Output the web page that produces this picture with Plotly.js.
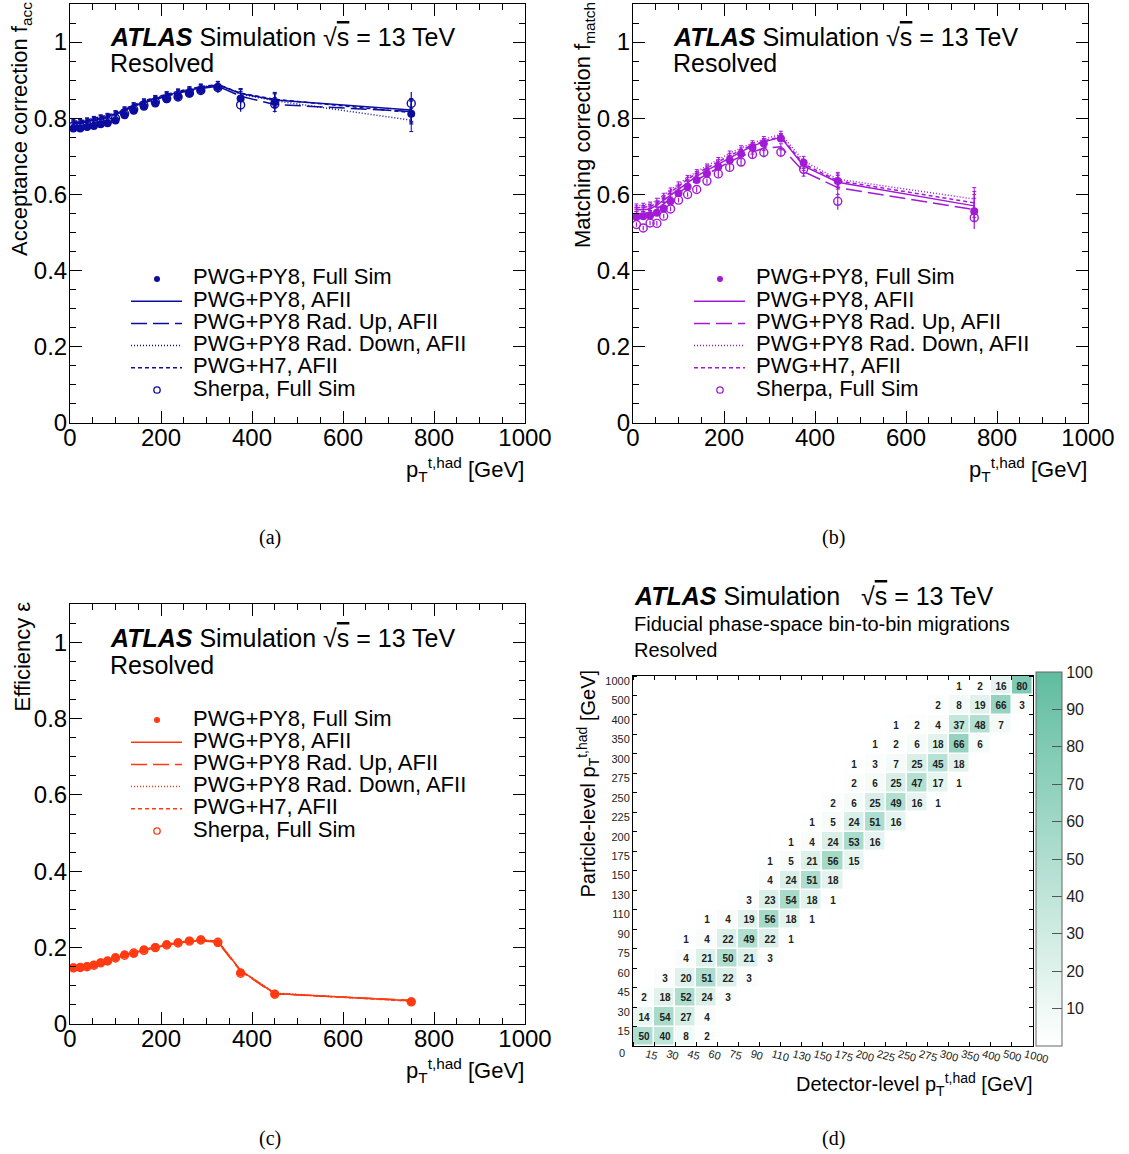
<!DOCTYPE html>
<html><head><meta charset="utf-8">
<script src="https://cdn.plot.ly/plotly-3.0.1.min.js"></script>
<style>body{margin:0;background:#fff}#chart{width:1129px;height:1154px}</style>
</head><body><div id="chart"></div>
<script>
// ---------------- data ----------------
const ptCenters = [7.5, 22.5, 37.5, 52.5, 67.5, 82.5, 100, 120, 140, 162.5, 187.5, 212.5, 237.5, 262.5, 287.5, 325, 375, 450, 750];

const accFull    = [0.773,0.773,0.777,0.780,0.784,0.787,0.794,0.808,0.820,0.830,0.839,0.850,0.858,0.865,0.874,0.882,0.852,0.843,0.812];
const accAFII    = [0.788,0.790,0.793,0.797,0.801,0.805,0.812,0.822,0.833,0.843,0.852,0.861,0.868,0.874,0.880,0.888,0.865,0.848,0.822];
const accRadUp   = [0.785,0.787,0.790,0.794,0.798,0.802,0.809,0.820,0.831,0.841,0.850,0.859,0.866,0.872,0.878,0.884,0.858,0.836,0.818];
const accRadDown = [0.790,0.792,0.795,0.799,0.803,0.807,0.814,0.824,0.835,0.845,0.854,0.863,0.870,0.876,0.882,0.888,0.863,0.846,0.795];
const accH7      = [0.792,0.793,0.796,0.800,0.804,0.808,0.815,0.825,0.836,0.846,0.855,0.864,0.871,0.877,0.883,0.889,0.866,0.850,0.815];
const accSherpa  = [0.780,0.778,0.782,0.785,0.789,0.792,0.800,0.812,0.823,0.834,0.843,0.852,0.856,0.866,0.873,0.880,0.835,0.837,0.839];

const matFull    = [0.541,0.543,0.545,0.552,0.563,0.582,0.603,0.620,0.638,0.655,0.673,0.690,0.707,0.723,0.734,0.747,0.683,0.635,0.556];
const matAFII    = [0.560,0.560,0.562,0.572,0.585,0.598,0.615,0.632,0.648,0.663,0.680,0.697,0.712,0.727,0.738,0.750,0.675,0.632,0.570];
const matRadUp   = [0.550,0.550,0.553,0.562,0.575,0.588,0.605,0.622,0.638,0.653,0.670,0.686,0.700,0.712,0.722,0.725,0.660,0.618,0.560];
const matRadDown = [0.570,0.572,0.575,0.585,0.598,0.612,0.628,0.645,0.660,0.675,0.692,0.708,0.722,0.735,0.745,0.758,0.688,0.640,0.588];
const matH7      = [0.565,0.566,0.568,0.578,0.592,0.606,0.622,0.640,0.655,0.670,0.686,0.702,0.716,0.730,0.740,0.752,0.680,0.636,0.578];
const matSherpa  = [0.521,0.512,0.525,0.524,0.543,0.562,0.585,0.600,0.613,0.635,0.654,0.671,0.685,0.705,0.710,0.711,0.666,0.582,0.539];

const effFull    = [0.148,0.148,0.151,0.155,0.161,0.165,0.175,0.182,0.184,0.195,0.201,0.209,0.214,0.218,0.221,0.212,0.135,0.079,0.059];
const effAFII    = [0.150,0.150,0.152,0.157,0.162,0.167,0.174,0.181,0.187,0.194,0.201,0.208,0.213,0.217,0.219,0.216,0.140,0.080,0.061];
const effRadUp   = [0.149,0.149,0.151,0.156,0.161,0.166,0.173,0.180,0.186,0.193,0.200,0.207,0.212,0.216,0.218,0.214,0.138,0.079,0.062];
const effRadDown = [0.151,0.151,0.153,0.158,0.163,0.168,0.175,0.182,0.188,0.195,0.202,0.209,0.214,0.218,0.220,0.217,0.141,0.081,0.060];
const effH7      = [0.150,0.151,0.153,0.157,0.163,0.167,0.175,0.182,0.188,0.195,0.202,0.209,0.214,0.218,0.221,0.217,0.140,0.080,0.060];
const effSherpa  = [0.147,0.148,0.150,0.154,0.160,0.165,0.173,0.180,0.186,0.193,0.200,0.207,0.212,0.217,0.220,0.214,0.133,0.078,0.058];

// uncertainties for the correction factors (a, b) and for the efficiency (c)
const errFull   = [0.004,0.004,0.004,0.004,0.004,0.004,0.004,0.004,0.005,0.005,0.005,0.006,0.006,0.007,0.008,0.009,0.015,0.020,0.025];
const errSherpa = [0.006,0.006,0.006,0.006,0.006,0.006,0.006,0.006,0.007,0.007,0.008,0.009,0.010,0.011,0.012,0.013,0.018,0.022,0.030];
const errLine   = [0.005,0.005,0.005,0.005,0.005,0.005,0.005,0.005,0.005,0.005,0.005,0.006,0.006,0.006,0.007,0.008,0.012,0.018,0.030];
const errEff    = [0.001,0.001,0.001,0.001,0.001,0.001,0.001,0.001,0.001,0.001,0.001,0.001,0.001,0.002,0.002,0.002,0.002,0.002,0.003];

const legendNames = ["PWG+PY8, Full Sim", "PWG+PY8, AFII", "PWG+PY8 Rad. Up, AFII", "PWG+PY8 Rad. Down, AFII", "PWG+H7, AFII", "Sherpa, Full Sim"];

const binEdgeLabels = ["15","30","45","60","75","90","110","130","150","175","200","225","250","275","300","350","400","500","1000"];
const _ = null;
// rows: particle-level bins (0-15 ... 500-1000); columns: detector-level bins
const migration = [
  [50,40, 8, 2],
  [14,54,27, 4],
  [ 2,18,52,24, 3],
  [ _, 3,20,51,22, 3],
  [ _, _, 4,21,50,21, 3],
  [ _, _, 1, 4,22,49,22, 1],
  [ _, _, _, 1, 4,19,56,18, 1],
  [ _, _, _, _, _, 3,23,54,18, 1],
  [ _, _, _, _, _, _, 4,24,51,18],
  [ _, _, _, _, _, _, 1, 5,21,56,15],
  [ _, _, _, _, _, _, _, 1, 4,24,53,16],
  [ _, _, _, _, _, _, _, _, 1, 5,24,51,16],
  [ _, _, _, _, _, _, _, _, _, 2, 6,25,49,16, 1],
  [ _, _, _, _, _, _, _, _, _, _, 2, 6,25,47,17, 1],
  [ _, _, _, _, _, _, _, _, _, _, 1, 3, 7,25,45,18],
  [ _, _, _, _, _, _, _, _, _, _, _, 1, 2, 6,18,66, 6],
  [ _, _, _, _, _, _, _, _, _, _, _, _, 1, 2, 4,37,48, 7],
  [ _, _, _, _, _, _, _, _, _, _, _, _, _, _, 2, 8,19,66, 3],
  [ _, _, _, _, _, _, _, _, _, _, _, _, _, _, _, 1, 2,16,80]
];
const colorbarTicks = [10,20,30,40,50,60,70,80,90,100];

// ---------------- helpers ----------------
const W = 1129, H = 1154;
const fx = p => p / W;
const fy = p => 1 - p / H;
const FONT = 'Liberation Sans, Arial, Helvetica, sans-serif';
const BLUE = '#0c0ca0', PURPLE = '#a21ad6', RED = '#ff3a12';
const DASH_LONG = '16px,6px', DASH_DOT = '1px,2px', DASH_SHORT = '4px,3px';

const nCells = binEdgeLabels.length;
const migZ = migration.map(r => { const a = r.slice(); while (a.length < nCells) a.push(null); return a; });
const migText = migZ.map(r => r.map(v => v == null ? '' : String(v)));
const idx = binEdgeLabels.map((_, i) => i);

function panelTraces(xa, ya, color, full, afii, up, down, h7, sherpa, eFull, eSherpa, eLine) {
  const lineTrace = (y, dash) => ({
    type: 'scatter', mode: 'lines', x: ptCenters, y: y, xaxis: xa, yaxis: ya,
    line: {color: color, width: 1.5, dash: dash}, showlegend: false, hoverinfo: 'skip',
    error_y: {type: 'data', array: eLine, color: color, thickness: 1, width: 2}
  });
  return [
    lineTrace(afii, 'solid'),
    lineTrace(up, DASH_LONG),
    lineTrace(down, DASH_DOT),
    lineTrace(h7, DASH_SHORT),
    {type: 'scatter', mode: 'markers', x: ptCenters, y: full, xaxis: xa, yaxis: ya,
     marker: {color: color, size: 8, symbol: 'circle'}, showlegend: false, hoverinfo: 'skip',
     error_y: {type: 'data', array: eFull, color: color, thickness: 1.2, width: 0}},
    {type: 'scatter', mode: 'markers', x: ptCenters, y: sherpa, xaxis: xa, yaxis: ya,
     marker: {color: color, size: 8, symbol: 'circle-open', line: {width: 1.4, color: color}}, showlegend: false, hoverinfo: 'skip',
     error_y: {type: 'data', array: eSherpa, color: color, thickness: 1.2, width: 0}}
  ];
}

const data = [
  ...panelTraces('x', 'y', BLUE, accFull, accAFII, accRadUp, accRadDown, accH7, accSherpa, errFull, errSherpa, errLine),
  ...panelTraces('x2', 'y2', PURPLE, matFull, matAFII, matRadUp, matRadDown, matH7, matSherpa, errFull, errSherpa, errLine),
  ...panelTraces('x3', 'y3', RED, effFull, effAFII, effRadUp, effRadDown, effH7, effSherpa, errEff, errEff, errEff),
  {
    type: 'heatmap', x: idx, y: idx, z: migZ, text: migText,
    texttemplate: '<b>%{text}</b>', textfont: {size: 10, color: '#222', family: FONT},
    xaxis: 'x4', yaxis: 'y4', zmin: 0, zmax: 100, xgap: 1.5, ygap: 1.5,
    colorscale: [[0, 'rgb(255,255,255)'], [1, 'rgb(95,189,159)']],
    hoverinfo: 'skip',
    colorbar: {
      x: fx(1036), xanchor: 'left', y: fy(1046), yanchor: 'bottom',
      len: 374, lenmode: 'pixels', thickness: 26, thicknessmode: 'pixels',
      xpad: 0, ypad: 0, outlinewidth: 1, outlinecolor: '#666',
      tickmode: 'array', tickvals: colorbarTicks, ticks: 'inside', ticklen: 10, tickcolor: '#555',
      tickfont: {size: 16, color: '#222', family: FONT}
    }
  }
];

// ---------------- axes ----------------
function xAxis(l, r, anchor) {
  return {
    domain: [fx(l), fx(r)], anchor: anchor, range: [0, 1000], tickmode: 'linear', tick0: 0, dtick: 200,
    ticks: 'inside', ticklen: 12, tickwidth: 1, tickcolor: '#000', ticklabelstandoff: -7,
    minor: {tick0: 0, dtick: 50, ticks: 'inside', ticklen: 6, tickcolor: '#000'},
    showline: true, linecolor: '#000', linewidth: 1, mirror: 'ticks',
    showgrid: false, zeroline: false, tickfont: {size: 24, color: '#000', family: FONT}
  };
}
function yAxis(t, b, anchor) {
  return {
    domain: [fy(b), fy(t)], anchor: anchor, range: [0, 1.1], tickmode: 'linear', tick0: 0, dtick: 0.2,
    ticks: 'inside', ticklen: 12, tickwidth: 1, tickcolor: '#000', ticklabelstandoff: -3,
    minor: {tick0: 0, dtick: 0.05, ticks: 'inside', ticklen: 6, tickcolor: '#000'},
    showline: true, linecolor: '#000', linewidth: 1, mirror: 'ticks',
    showgrid: false, zeroline: false, tickfont: {size: 24, color: '#000', family: FONT}
  };
}

// ---------------- annotations ----------------
const ann = [];
function txt(text, x, y, size, opts) {
  ann.push(Object.assign({text: text, x: fx(x), y: fy(y), xref: 'paper', yref: 'paper', showarrow: false,
    xanchor: 'left', yanchor: 'middle', font: {size: size, color: '#000', family: FONT}}, opts || {}));
}
const SQRTS = '\u221A<span style="text-decoration:overline">s</span>';
const ATLAS = '<b><i>ATLAS</i></b> Simulation ' + SQRTS + ' = 13 TeV';
txt(ATLAS, 108, 37, 25); txt('Resolved', 108, 63, 25);
txt(ATLAS, 671, 37, 25); txt('Resolved', 671, 63, 25);
txt(ATLAS, 108, 638, 25); txt('Resolved', 108, 665, 25);
txt('<b><i>ATLAS</i></b> Simulation\u00a0\u00a0\u00a0' + SQRTS + ' = 13 TeV', 632, 596, 25);
txt('Fiducial phase-space bin-to-bin migrations', 632, 624, 20);
txt('Resolved', 632, 650, 20);

// axis titles
const PT = 'p<sub>T</sub><sup>t,had</sup> [GeV]';
txt(PT, 526, 469, 22, {xanchor: 'right'});
txt(PT, 1089, 469, 22, {xanchor: 'right'});
txt(PT, 526, 1070, 22, {xanchor: 'right'});
txt('Detector-level ' + PT, 1034, 1084, 20, {xanchor: 'right'});
txt('Acceptance correction f<sub>acc</sub>', 5, 0, 22, {textangle: -90, yanchor: 'top'});
txt('Matching correction f<sub>match</sub>', 568, 0, 22, {textangle: -90, yanchor: 'top'});
txt('Efficiency \u03B5', 7, 600, 22, {textangle: -90, yanchor: 'top'});
txt('Particle-level ' + PT, 571, 668, 20, {textangle: -90, yanchor: 'top'});
txt('0', 622, 1053, 11, {xanchor: 'center', font: {size: 11, color: '#222', family: FONT}});

// captions
const SERIF = 'Liberation Serif, Times New Roman, serif';
[['(a)', 270, 537], ['(b)', 833, 537], ['(c)', 270, 1138], ['(d)', 833, 1138]].forEach(c =>
  txt(c[0], c[1], c[2], 20, {xanchor: 'center', font: {size: 20, color: '#000', family: SERIF}}));

// ---------------- legends (drawn as decorations) ----------------
const shapes = [];
function legend(symX0, textX, rowY0, color) {
  const dy = 22.2, x0 = symX0, x1 = symX0 + 51, xc = symX0 + 26;
  const kinds = ['dot', 'solid', DASH_LONG, DASH_DOT, DASH_SHORT, 'open'];
  kinds.forEach((k, i) => {
    const y = rowY0 + i * dy;
    txt(legendNames[i], textX, y, 22);
    const ys = y + 2;
    if (k === 'dot' || k === 'open') {
      const r = k === 'dot' ? 3 : 3.2;
      shapes.push({type: 'circle', xref: 'paper', yref: 'paper',
        x0: fx(xc - r), x1: fx(xc + r), y0: fy(ys + r), y1: fy(ys - r),
        fillcolor: k === 'dot' ? color : 'rgba(0,0,0,0)', line: {color: color, width: k === 'dot' ? 0 : 1.3}});
    } else {
      shapes.push({type: 'line', xref: 'paper', yref: 'paper', x0: fx(x0), x1: fx(x1), y0: fy(ys), y1: fy(ys),
        line: {color: color, width: 1.5, dash: k}});
    }
  });
}
legend(131, 191, 277, BLUE);
legend(694, 754, 277, PURPLE);
legend(131, 191, 718, RED);

// ---------------- layout ----------------
const layout = {
  width: W, height: H, margin: {l: 0, r: 0, t: 0, b: 0},
  paper_bgcolor: '#fff', plot_bgcolor: '#fff',
  font: {family: FONT, color: '#000'}, showlegend: false,
  xaxis: xAxis(70, 525, 'y'), yaxis: yAxis(4, 423, 'x'),
  xaxis2: xAxis(633, 1088, 'y2'), yaxis2: yAxis(4, 423, 'x2'),
  xaxis3: xAxis(70, 525, 'y3'), yaxis3: yAxis(604, 1024, 'x3'),
  xaxis4: {
    domain: [fx(633), fx(1033)], anchor: 'y4', range: [-0.5, nCells - 0.5],
    tickmode: 'array', tickvals: idx.map(i => i + 0.5), ticktext: binEdgeLabels,
    tickangle: 15, ticks: '', ticklabelshift: -8, ticklabelstandoff: -3,
    minor: {tickmode: 'linear', tick0: -0.5, dtick: 1, ticks: 'inside', ticklen: 4, tickcolor: '#000'},
    showline: true, linecolor: '#000', linewidth: 1, mirror: 'ticks', showgrid: false, zeroline: false,
    tickfont: {size: 11, color: '#222', family: FONT}
  },
  yaxis4: {
    domain: [fy(1046), fy(676)], anchor: 'x4', range: [-0.5, nCells - 0.5],
    tickmode: 'array', tickvals: idx.map(i => i + 0.25), ticktext: binEdgeLabels, ticks: '',
    minor: {tickmode: 'linear', tick0: -0.5, dtick: 1, ticks: 'inside', ticklen: 4, tickcolor: '#000'},
    showline: true, linecolor: '#000', linewidth: 1, mirror: 'ticks', showgrid: false, zeroline: false,
    tickfont: {size: 11, color: '#222', family: FONT}
  },
  annotations: ann, shapes: shapes
};

Plotly.newPlot('chart', data, layout, {displayModeBar: false, staticPlot: true});
</script>
</body></html>
